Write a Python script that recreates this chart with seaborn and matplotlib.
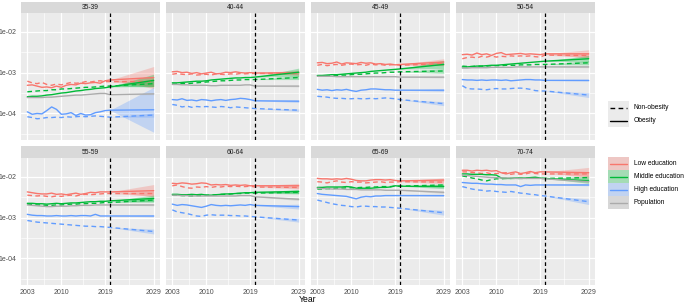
import numpy as np
import pandas as pd
import matplotlib
matplotlib.use("Agg")
import matplotlib.pyplot as plt
import seaborn as sns
from matplotlib.patches import Rectangle
from matplotlib.lines import Line2D

# years 2003..2020 observed, last point = projection end (2029)
years = list(range(2003, 2021)) + [2029]
ages = ["35-39", "40-44", "45-49", "50-54", "55-59", "60-64", "65-69", "70-74"]

# log10 of the rates
low_ob = {
    "35-39": [-3.31, -3.30, -3.33, -3.36, -3.35, -3.37, -3.33, -3.36, -3.31, -3.29, -3.30, -3.26, -3.27, -3.25, -3.24, -3.26, -3.20, -3.18, -3.12],
    "40-44": [-2.98, -2.97, -3.00, -2.99, -3.02, -3.00, -3.03, -3.01, -2.99, -3.03, -3.02, -2.99, -3.00, -2.98, -3.00, -3.01, -3.00, -3.01, -3.00],
    "45-49": [-2.76, -2.75, -2.78, -2.77, -2.74, -2.79, -2.76, -2.77, -2.78, -2.75, -2.77, -2.76, -2.79, -2.78, -2.80, -2.79, -2.81, -2.80, -2.74],
    "50-54": [-2.56, -2.55, -2.57, -2.52, -2.56, -2.54, -2.58, -2.53, -2.51, -2.56, -2.55, -2.54, -2.53, -2.55, -2.54, -2.55, -2.56, -2.54, -2.54],
    "55-59": [-2.37, -2.39, -2.41, -2.42, -2.42, -2.40, -2.43, -2.42, -2.44, -2.42, -2.40, -2.43, -2.41, -2.38, -2.39, -2.37, -2.37, -2.37, -2.34],
    "60-64": [-2.16, -2.17, -2.15, -2.16, -2.18, -2.17, -2.15, -2.16, -2.20, -2.19, -2.20, -2.19, -2.21, -2.20, -2.21, -2.20, -2.22, -2.22, -2.22],
    "65-69": [-2.04, -2.05, -2.05, -2.06, -2.05, -2.06, -2.04, -2.06, -2.09, -2.10, -2.10, -2.08, -2.07, -2.07, -2.08, -2.07, -2.09, -2.10, -2.08],
    "70-74": [-1.84, -1.84, -1.86, -1.84, -1.85, -1.84, -1.86, -1.85, -1.90, -1.93, -1.90, -1.88, -1.92, -1.90, -1.87, -1.90, -1.88, -1.88, -1.90],
}
low_non = {
    "35-39": [-3.21, -3.25, -3.27, -3.24, -3.29, -3.31, -3.28, -3.30, -3.27, -3.24, -3.26, -3.25, -3.22, -3.23, -3.21, -3.20, -3.22, -3.22, -3.22],
    "40-44": [-3.04, -3.02, -3.04, -3.05, -3.03, -3.06, -3.05, -3.04, -3.06, -3.03, -3.04, -3.05, -3.03, -3.04, -3.02, -3.03, -3.02, -3.02, -3.02],
    "45-49": [-2.82, -2.80, -2.83, -2.81, -2.80, -2.82, -2.80, -2.79, -2.81, -2.80, -2.82, -2.79, -2.81, -2.80, -2.82, -2.81, -2.80, -2.82, -2.78],
    "50-54": [-2.66, -2.63, -2.62, -2.64, -2.60, -2.62, -2.59, -2.62, -2.60, -2.61, -2.59, -2.60, -2.59, -2.60, -2.59, -2.61, -2.62, -2.57, -2.58],
    "55-59": [-2.45, -2.46, -2.47, -2.46, -2.48, -2.49, -2.47, -2.48, -2.46, -2.45, -2.47, -2.44, -2.43, -2.44, -2.43, -2.42, -2.41, -2.41, -2.41],
    "60-64": [-2.22, -2.20, -2.24, -2.27, -2.28, -2.25, -2.26, -2.24, -2.26, -2.24, -2.25, -2.23, -2.24, -2.23, -2.24, -2.24, -2.23, -2.25, -2.26],
    "65-69": [-2.12, -2.13, -2.15, -2.12, -2.10, -2.13, -2.14, -2.12, -2.13, -2.13, -2.15, -2.14, -2.13, -2.12, -2.14, -2.13, -2.13, -2.12, -2.13],
    "70-74": [-1.88, -1.88, -1.90, -1.90, -1.92, -1.90, -1.93, -1.92, -1.91, -1.90, -1.94, -1.92, -1.94, -1.93, -1.90, -1.92, -1.93, -1.93, -1.93],
}
mid_ob = {
    "35-39": [-3.59, -3.58, -3.58, -3.57, -3.55, -3.54, -3.52, -3.50, -3.49, -3.47, -3.45, -3.44, -3.42, -3.41, -3.39, -3.38, -3.37, -3.35, -3.19],
    "40-44": [-3.25, -3.25, -3.24, -3.23, -3.22, -3.21, -3.21, -3.20, -3.18, -3.17, -3.16, -3.15, -3.14, -3.13, -3.13, -3.12, -3.12, -3.11, -2.99],
    "45-49": [-3.07, -3.07, -3.06, -3.05, -3.05, -3.04, -3.03, -3.02, -3.01, -3.00, -2.99, -2.97, -2.96, -2.95, -2.94, -2.93, -2.92, -2.91, -2.80],
    "50-54": [-2.86, -2.86, -2.85, -2.84, -2.84, -2.83, -2.82, -2.82, -2.81, -2.80, -2.79, -2.78, -2.77, -2.76, -2.75, -2.74, -2.73, -2.72, -2.66],
    "55-59": [-2.65, -2.65, -2.66, -2.66, -2.67, -2.66, -2.65, -2.66, -2.65, -2.64, -2.64, -2.63, -2.62, -2.61, -2.61, -2.60, -2.60, -2.59, -2.53],
    "60-64": [-2.43, -2.43, -2.44, -2.44, -2.43, -2.44, -2.43, -2.45, -2.45, -2.44, -2.43, -2.42, -2.42, -2.41, -2.40, -2.39, -2.39, -2.38, -2.36],
    "65-69": [-2.26, -2.26, -2.25, -2.25, -2.25, -2.25, -2.24, -2.25, -2.28, -2.28, -2.28, -2.28, -2.27, -2.26, -2.26, -2.25, -2.22, -2.23, -2.24],
    "70-74": [-1.93, -1.93, -1.94, -1.94, -1.94, -1.95, -1.95, -1.96, -2.03, -2.04, -2.04, -2.03, -2.03, -2.03, -2.02, -2.01, -2.03, -2.04, -2.10],
}
mid_non = {
    "35-39": [-3.47, -3.46, -3.45, -3.44, -3.44, -3.42, -3.42, -3.40, -3.40, -3.39, -3.38, -3.37, -3.36, -3.36, -3.35, -3.34, -3.33, -3.33, -3.27],
    "40-44": [-3.28, -3.28, -3.27, -3.27, -3.26, -3.25, -3.24, -3.23, -3.22, -3.21, -3.20, -3.20, -3.19, -3.18, -3.18, -3.17, -3.17, -3.17, -3.12],
    "45-49": [-3.09, -3.09, -3.08, -3.08, -3.07, -3.06, -3.06, -3.05, -3.04, -3.04, -3.03, -3.02, -3.01, -3.01, -3.00, -2.99, -2.99, -2.98, -2.96],
    "50-54": [-2.84, -2.85, -2.85, -2.84, -2.84, -2.84, -2.83, -2.83, -2.83, -2.82, -2.82, -2.82, -2.81, -2.81, -2.81, -2.80, -2.80, -2.80, -2.76],
    "55-59": [-2.67, -2.68, -2.69, -2.69, -2.70, -2.70, -2.69, -2.69, -2.68, -2.67, -2.67, -2.66, -2.66, -2.65, -2.65, -2.64, -2.63, -2.63, -2.57],
    "60-64": [-2.45, -2.45, -2.46, -2.46, -2.47, -2.46, -2.46, -2.45, -2.45, -2.44, -2.43, -2.43, -2.42, -2.41, -2.41, -2.40, -2.40, -2.40, -2.38],
    "65-69": [-2.30, -2.30, -2.29, -2.29, -2.28, -2.28, -2.27, -2.27, -2.27, -2.26, -2.26, -2.25, -2.25, -2.24, -2.24, -2.24, -2.23, -2.23, -2.20],
    "70-74": [-1.98, -2.00, -2.03, -2.05, -2.08, -2.10, -2.07, -2.05, -2.05, -2.04, -2.04, -2.04, -2.04, -2.04, -2.03, -2.03, -2.04, -2.04, -2.02],
}
high_ob = {
    "35-39": [-3.96, -4.02, -4.00, -4.01, -3.93, -3.84, -3.90, -4.02, -4.01, -3.98, -4.05, -4.00, -4.04, -4.03, -3.98, -3.96, -3.93, -3.92, -3.91],
    "40-44": [-3.66, -3.67, -3.64, -3.68, -3.67, -3.69, -3.66, -3.67, -3.69, -3.67, -3.66, -3.68, -3.66, -3.65, -3.63, -3.64, -3.66, -3.69, -3.70],
    "45-49": [-3.41, -3.43, -3.42, -3.44, -3.42, -3.43, -3.41, -3.44, -3.46, -3.43, -3.42, -3.40, -3.40, -3.41, -3.42, -3.42, -3.43, -3.43, -3.43],
    "50-54": [-3.17, -3.18, -3.18, -3.19, -3.18, -3.19, -3.18, -3.18, -3.19, -3.18, -3.20, -3.19, -3.18, -3.17, -3.17, -3.18, -3.18, -3.19, -3.19],
    "55-59": [-2.92, -2.94, -2.95, -2.95, -2.96, -2.96, -2.95, -2.96, -2.96, -2.95, -2.96, -2.95, -2.95, -2.96, -2.92, -2.96, -2.96, -2.96, -2.96],
    "60-64": [-2.67, -2.70, -2.68, -2.69, -2.71, -2.73, -2.75, -2.72, -2.68, -2.70, -2.71, -2.70, -2.71, -2.70, -2.69, -2.70, -2.68, -2.70, -2.73],
    "65-69": [-2.41, -2.43, -2.44, -2.45, -2.46, -2.47, -2.48, -2.51, -2.54, -2.50, -2.48, -2.49, -2.47, -2.47, -2.46, -2.46, -2.46, -2.46, -2.46],
    "70-74": [-2.14, -2.15, -2.16, -2.16, -2.17, -2.18, -2.18, -2.19, -2.19, -2.20, -2.20, -2.20, -2.24, -2.20, -2.21, -2.20, -2.20, -2.20, -2.20],
}
high_non = {
    "35-39": [-4.08, -4.10, -4.13, -4.12, -4.10, -4.10, -4.09, -4.10, -4.08, -4.09, -4.08, -4.07, -4.08, -4.07, -4.06, -4.07, -4.08, -4.09, -4.04],
    "40-44": [-3.78, -3.80, -3.84, -3.82, -3.85, -3.83, -3.84, -3.83, -3.84, -3.85, -3.83, -3.84, -3.86, -3.84, -3.85, -3.86, -3.87, -3.88, -3.92],
    "45-49": [-3.58, -3.59, -3.60, -3.62, -3.63, -3.63, -3.64, -3.64, -3.63, -3.64, -3.64, -3.63, -3.64, -3.63, -3.62, -3.63, -3.64, -3.66, -3.76],
    "50-54": [-3.32, -3.39, -3.40, -3.40, -3.41, -3.42, -3.40, -3.39, -3.40, -3.40, -3.39, -3.38, -3.38, -3.39, -3.41, -3.44, -3.45, -3.45, -3.55],
    "55-59": [-3.07, -3.09, -3.11, -3.12, -3.13, -3.14, -3.15, -3.16, -3.17, -3.18, -3.19, -3.20, -3.21, -3.21, -3.22, -3.22, -3.23, -3.24, -3.34],
    "60-64": [-2.81, -2.86, -2.88, -2.90, -2.93, -2.96, -2.97, -2.94, -2.93, -2.94, -2.94, -2.94, -2.95, -2.95, -2.96, -2.96, -2.97, -2.98, -3.06],
    "65-69": [-2.57, -2.60, -2.63, -2.66, -2.68, -2.70, -2.71, -2.73, -2.74, -2.72, -2.72, -2.73, -2.73, -2.74, -2.74, -2.75, -2.76, -2.77, -2.88],
    "70-74": [-2.24, -2.27, -2.30, -2.32, -2.33, -2.35, -2.34, -2.36, -2.37, -2.38, -2.36, -2.38, -2.40, -2.41, -2.43, -2.44, -2.46, -2.47, -2.61],
}
population = {
    "35-39": [-3.61, -3.61, -3.61, -3.61, -3.60, -3.60, -3.59, -3.58, -3.57, -3.56, -3.55, -3.55, -3.54, -3.53, -3.52, -3.51, -3.51, -3.54, -3.52],
    "40-44": [-3.29, -3.29, -3.30, -3.30, -3.31, -3.31, -3.31, -3.31, -3.32, -3.32, -3.31, -3.31, -3.31, -3.31, -3.31, -3.30, -3.30, -3.33, -3.33],
    "45-49": [-3.09, -3.09, -3.09, -3.09, -3.10, -3.10, -3.10, -3.10, -3.10, -3.10, -3.10, -3.10, -3.10, -3.10, -3.10, -3.10, -3.10, -3.11, -3.11],
    "50-54": [-2.89, -2.89, -2.88, -2.88, -2.88, -2.88, -2.87, -2.87, -2.87, -2.87, -2.87, -2.86, -2.86, -2.86, -2.86, -2.86, -2.86, -2.86, -2.86],
    "55-59": [-2.69, -2.70, -2.71, -2.72, -2.73, -2.73, -2.72, -2.72, -2.72, -2.71, -2.71, -2.70, -2.70, -2.70, -2.69, -2.69, -2.69, -2.69, -2.69],
    "60-64": [-2.45, -2.45, -2.46, -2.46, -2.47, -2.47, -2.47, -2.47, -2.47, -2.47, -2.47, -2.47, -2.47, -2.47, -2.46, -2.46, -2.46, -2.49, -2.55],
    "65-69": [-2.28, -2.29, -2.29, -2.30, -2.30, -2.30, -2.31, -2.31, -2.31, -2.32, -2.32, -2.32, -2.32, -2.32, -2.33, -2.33, -2.33, -2.33, -2.38],
    "70-74": [-1.96, -1.97, -1.98, -1.99, -2.00, -2.01, -2.02, -2.02, -2.03, -2.03, -2.03, -2.04, -2.04, -2.04, -2.04, -2.04, -2.04, -2.05, -2.12],
}

# half width (log10) of the projection band at 2029, one per age group
rib_low_ob = [0.27, 0.06, 0.08, 0.10, 0.15, 0.06, 0.05, 0.13]
rib_low_non = [0.12, 0.04, 0.05, 0.05, 0.06, 0.04, 0.04, 0.05]
rib_mid_ob = [0.15, 0.10, 0.10, 0.08, 0.08, 0.05, 0.05, 0.06]
rib_mid_non = [0.08, 0.05, 0.06, 0.05, 0.05, 0.04, 0.03, 0.04]
rib_high_ob = [0.55, 0.03, 0.03, 0.02, 0.02, 0.06, 0.02, 0.02]
rib_high_non = [0.05, 0.03, 0.05, 0.06, 0.06, 0.05, 0.06, 0.07]
rib_pop = [0.02, 0.02, 0.02, 0.02, 0.02, 0.03, 0.03, 0.03]

edu_levels = ["Low education", "Middle education", "High education", "Population"]
palette = {"Low education": "#F8766D", "Middle education": "#00BA38",
           "High education": "#619CFF", "Population": "#ABABAB"}
dash_map = {"Obesity": "", "Non-obesity": (3.4, 2.4), "All": ""}

series = [
    ("Low education", "Obesity", low_ob, rib_low_ob),
    ("Low education", "Non-obesity", low_non, rib_low_non),
    ("Middle education", "Obesity", mid_ob, rib_mid_ob),
    ("Middle education", "Non-obesity", mid_non, rib_mid_non),
    ("High education", "Obesity", high_ob, rib_high_ob),
    ("High education", "Non-obesity", high_non, rib_high_non),
    ("Population", "All", population, rib_pop),
]

rows = []
for age in ages:
    for edu, ob, vals, _ in series:
        for yr, v in zip(years, vals[age]):
            rows.append({"age": age, "edu": edu, "ob": ob, "year": yr, "rate": 10 ** v})
df = pd.DataFrame(rows)

sns.set_theme(style="darkgrid")
plt.rcParams["font.family"] = ["Liberation Sans", "DejaVu Sans"]

W, H = 685, 305
fig = plt.figure(figsize=(W / 100, H / 100), dpi=100)


def rect(x0, y0, x1, y1):
    return [x0 / W, 1 - y1 / H, (x1 - x0) / W, (y1 - y0) / H]


col_x = [21, 166, 311, 456]
pw = 139
row_y = [(2, 13, 140), (146, 158, 285)]
tick_fs = 5.0

for k, age in enumerate(ages):
    r, c = divmod(k, 4)
    sy0, py0, py1 = row_y[r]
    x0 = col_x[c]
    ax = fig.add_axes(rect(x0, py0, x0 + pw, py1))
    ax.set_facecolor("#EBEBEB")
    ax.set_yscale("log")

    # projection bands
    for edu, ob, vals, rib in series:
        v = vals[age]
        c0, c1 = v[-2], v[-1]
        hw = rib[k]
        ax.fill_between([2020, 2029], [10 ** c0, 10 ** (c1 - hw)], [10 ** c0, 10 ** (c1 + hw)],
                        color=palette[edu], alpha=0.3, lw=0, zorder=2)

    sub = df[df["age"] == age]
    sns.lineplot(data=sub, x="year", y="rate", hue="edu", style="ob",
                 hue_order=edu_levels, palette=palette, dashes=dash_map,
                 estimator=None, lw=1.0, legend=False, ax=ax, zorder=3)

    ax.axvline(2020, color="black", lw=0.9, ls=(0, (3, 2.2)), zorder=4)

    ax.set_xlim(2001.7, 2030.3)
    ax.set_ylim(10 ** -4.65, 10 ** -1.54)
    ax.set_xticks([2003, 2010, 2019, 2029])
    ax.set_xticks([2006.5, 2014.5, 2024], minor=True)
    ax.set_yticks([1e-2, 1e-3, 1e-4])
    ax.set_yticks([10 ** -2.5, 10 ** -3.5, 10 ** -4.5], minor=True)
    ax.set_yticklabels(["1e-02", "1e-03", "1e-04"])
    ax.set_xticklabels(["2003", "2010", "2019", "2029"])
    ax.yaxis.set_minor_formatter(plt.NullFormatter())
    ax.grid(which="major", color="white", lw=0.9)
    ax.grid(which="minor", color="white", lw=0.45)
    ax.set_axisbelow(True)
    for s in ax.spines.values():
        s.set_visible(False)
    ax.set_xlabel("")
    ax.set_ylabel("")
    ax.tick_params(which="minor", length=0)
    ax.tick_params(axis="x", which="major", length=2.0 if r == 1 else 0, width=0.6,
                   color="#333333", labelsize=tick_fs, labelcolor="#4D4D4D", pad=1.2,
                   labelbottom=(r == 1))
    ax.tick_params(axis="y", which="major", length=2.0 if c == 0 else 0, width=0.6,
                   color="#333333", labelsize=tick_fs, labelcolor="#4D4D4D", pad=1.0,
                   labelleft=(c == 0))

    st = fig.add_axes(rect(x0, sy0, x0 + pw, py0))
    st.set_facecolor("#D9D9D9")
    st.set_xticks([])
    st.set_yticks([])
    for s in st.spines.values():
        s.set_visible(False)
    st.text(0.5, 0.5, age, ha="center", va="center", fontsize=4.8, color="#1A1A1A",
            transform=st.transAxes)

fig.text(308 / W, 1 - 300 / H, "Year", ha="center", va="center", fontsize=6.2, color="black")

# legends drawn on an overlay in pixel units
ov = fig.add_axes([0, 0, 1, 1])
ov.set_xlim(0, W)
ov.set_ylim(H, 0)
ov.axis("off")

leg_fs = 4.8
kx0, kx1 = 608, 629
for i, (lab, ls) in enumerate([("Non-obesity", (0, (3.4, 2.4))), ("Obesity", "-")]):
    y0 = 101 + i * 13
    ov.add_patch(Rectangle((kx0, y0), kx1 - kx0, 13, facecolor="#EBEBEB", edgecolor="none"))
    ov.add_line(Line2D([kx0 + 2, kx1 - 2], [y0 + 6.5] * 2, color="black", lw=1.0, ls=ls))
    ov.text(634, y0 + 6.5, lab, fontsize=leg_fs, va="center", ha="left", color="black")

for i, edu in enumerate(edu_levels):
    y0 = 157 + i * 13
    ov.add_patch(Rectangle((kx0, y0), kx1 - kx0, 13, facecolor="#EBEBEB", edgecolor="none"))
    ov.add_patch(Rectangle((kx0, y0), kx1 - kx0, 13, facecolor=palette[edu], alpha=0.3,
                           edgecolor="none"))
    ov.add_line(Line2D([kx0 + 2, kx1 - 2], [y0 + 6.5] * 2, color=palette[edu], lw=1.0))
    ov.text(634, y0 + 6.5, edu, fontsize=leg_fs, va="center", ha="left", color="black")

fig.savefig("out.png", dpi=100, facecolor="white")
